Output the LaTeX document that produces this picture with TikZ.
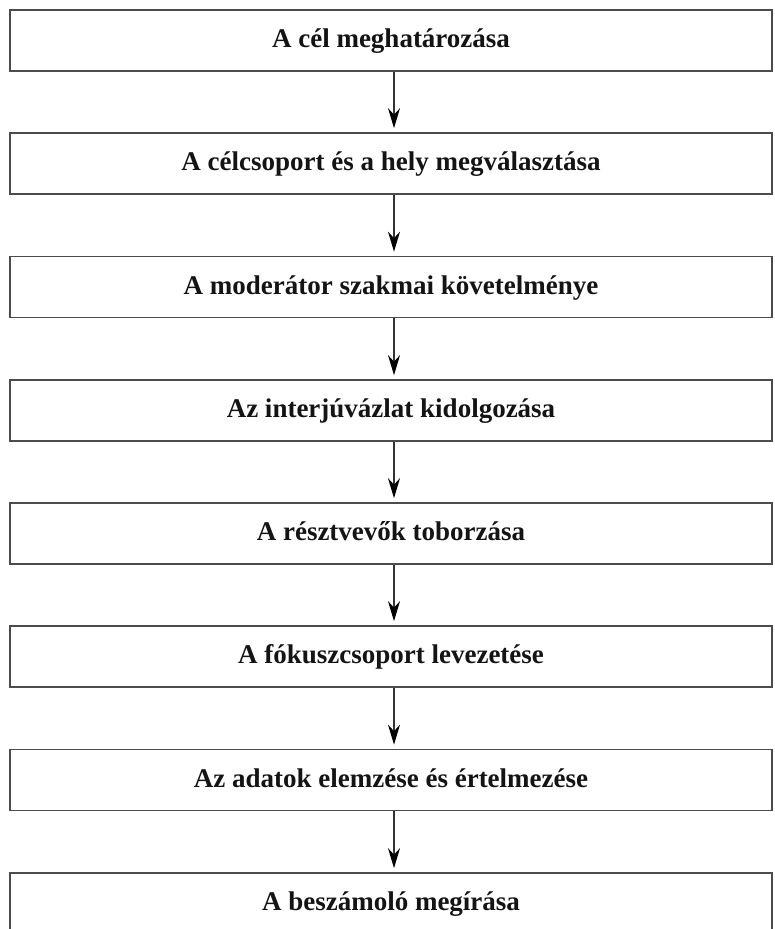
\documentclass[tikz,border=0pt]{standalone}
\usepackage{fontspec}
\setmainfont{Liberation Serif}
\usetikzlibrary{arrows.meta}
\begin{document}
\begin{tikzpicture}[x=1pt,y=-1pt,
  stepbox/.style={draw=black!70,line width=1.7pt,minimum width=762pt,minimum height=61pt,
    inner sep=0pt,text height=14.8pt,text depth=0pt,
    font=\fontsize{27}{27}\selectfont\bfseries,text=black!92},
  flow/.style={draw=black!80,line width=1.3pt,-{Stealth[length=20pt,width=12pt,color=black]},shorten >=4pt}]
\useasboundingbox (0,0) rectangle (774,929);
\clip (0,0) rectangle (774,929);
\fill[white] (0,0) rectangle (774,929);
\node[stepbox] (b1) at (391,40.5) {A cél meghatározása};
\node[stepbox] (b2) at (391,163.5) {A célcsoport és a hely megválasztása};
\node[stepbox] (b3) at (391,287) {A moderátor szakmai követelménye};
\node[stepbox] (b4) at (391,410.5) {Az interjúvázlat kidolgozása};
\node[stepbox] (b5) at (391,533.5) {A résztvevők toborzása};
\node[stepbox] (b6) at (391,656.5) {A fókuszcsoport levezetése};
\node[stepbox] (b7) at (391,780) {Az adatok elemzése és értelmezése};
\node[stepbox] (b8) at (391,903.5) {A beszámoló megírása};
\foreach \a/\b in {b1/b2,b2/b3,b3/b4,b4/b5,b5/b6,b6/b7,b7/b8}
  \draw[flow] ([xshift=3pt]\a.south) -- ([xshift=3pt]\b.north);
\end{tikzpicture}
\end{document}
